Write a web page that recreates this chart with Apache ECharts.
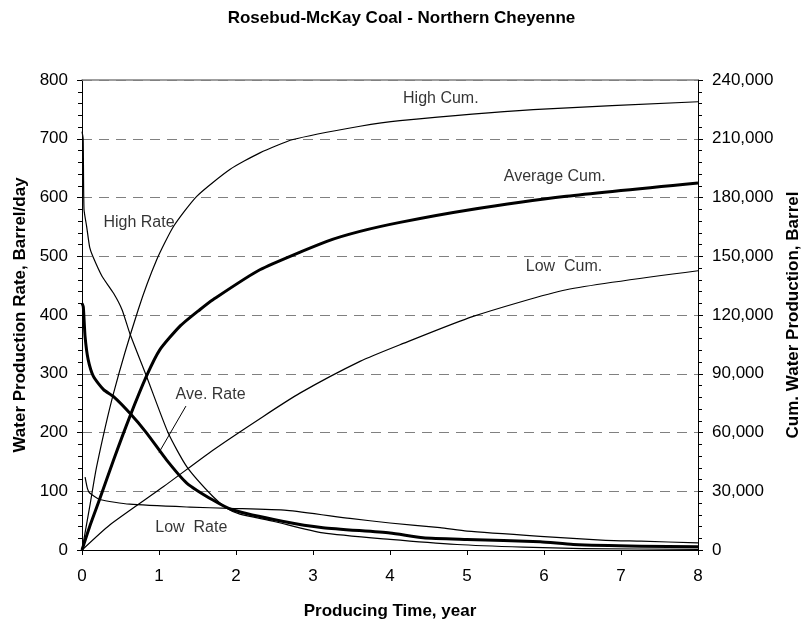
<!DOCTYPE html>
<html>
<head>
<meta charset="utf-8">
<script src="https://cdn.jsdelivr.net/npm/echarts@6/dist/echarts.min.js"></script>
<style>
html,body{margin:0;padding:0;background:#fff;overflow:hidden;}
#chart{width:803px;height:623px;}
</style>
</head>
<body>
<div id="chart"></div>
<script>
// ---- data (time in years) ----
const highRate = [[0,712],[0.015,700],[0.026,580],[0.06,551],[0.1,515],[0.14,500],[0.26,466],[0.41,437],[0.52,409],[0.62,369],[0.84,295],[1.12,199],[1.36,142],[1.7,91],[1.88,71],[2.05,61],[2.48,49],[3.13,29],[4,18],[4.87,9.4],[5.73,4.9],[6.5,2.5],[8,1]];
const aveRate = [[0,420],[0.017,414],[0.04,363],[0.08,324],[0.15,295],[0.28,273],[0.41,261],[0.62,233],[0.84,199],[1.1,153],[1.36,114],[1.7,85],[1.96,68],[2.6,49],[3.13,38],[4,29],[4.43,21],[5,18],[5.95,14],[6.38,9.5],[7.26,6.5],[8,5.5]];
const lowRate = [[0.04,124],[0.07,105],[0.1,97],[0.23,86],[0.62,78],[1.4,73],[1.92,71],[2.66,67.6],[3.48,53.7],[4,46],[4.65,38],[5,32],[5.95,23.3],[6.8,16.5],[7.26,15],[8,12]];
const highCum = [[0,0],[0.1,22100],[0.19,42600],[0.41,80100],[0.73,122700],[0.97,148200],[1.19,165300],[1.49,180600],[1.92,194300],[2.31,202800],[2.74,209600],[3.61,216400],[4.13,219300],[5.86,224900],[8,228900]];
const aveCum = [[0,0],[0.1,12000],[0.23,26000],[0.41,46000],[0.62,68000],[0.84,89000],[1.01,102200],[1.27,114200],[1.53,122700],[1.7,127800],[2.31,143100],[3.18,157600],[3.61,162700],[4.13,167300],[5,173500],[6.29,180600],[8,187400]];
const lowCum = [[0,0],[0.36,12800],[1.06,32400],[1.705,51100],[2.35,68100],[2.83,80100],[3.61,96300],[4.13,104800],[5.08,119300],[6.29,132900],[8,142600]];

// annotation labels (x in years, y in left-axis units)
const annoText = ['High Rate','Ave. Rate','Low  Rate','High Cum.','Average Cum.','Low  Cum.'];
const annoX = [0.74,1.67,1.42,4.66,6.14,6.26];
const annoY = [557,264,38,769,635,483];
const leader = [[1.35,245],[1.0,166]];

const titleText = 'Rosebud-McKay Coal - Northern Cheyenne';
const xName = 'Producing Time, year';
const yLeftName = 'Water Production Rate, Barrel/day';
const yRightName = 'Cum. Water Production, Barrel';

const FONT = '"Liberation Sans", Arial, sans-serif';
const chart = echarts.init(document.getElementById('chart'));

function lineSeries(data, width, yIndex) {
  return {
    type: 'line', data: data, yAxisIndex: yIndex, showSymbol: false,
    smooth: 0.2, animation: false,
    lineStyle: {color: '#000', width: width, join: 'round'}, z: 3
  };
}

const annoData = annoText.map((t, i) => ({name: t, value: [annoX[i], annoY[i]]}));

chart.setOption({
  animation: false,
  backgroundColor: '#fff',
  title: {
    text: titleText, left: 'center', top: 5,
    textStyle: {fontFamily: FONT, fontSize: 17, fontWeight: 'bold', color: '#000'}
  },
  grid: {left: 82, right: 105, top: 80, bottom: 73, containLabel: false, outerBoundsMode: 'none'},
  xAxis: [{
    type: 'value', min: 0, max: 8, interval: 1,
    name: xName, nameLocation: 'middle', nameGap: 53,
    nameTextStyle: {fontFamily: FONT, fontSize: 17, fontWeight: 'bold', color: '#000'},
    axisLine: {show: true, onZero: false, lineStyle: {color: '#000', width: 1}},
    axisTick: {show: true, length: 5, lineStyle: {color: '#000'}},
    axisLabel: {fontFamily: FONT, fontSize: 17, color: '#000', margin: 18},
    splitLine: {show: false}
  }, {
    type: 'value', min: 0, max: 8, position: 'top',
    axisLine: {show: true, onZero: false, lineStyle: {color: '#808080', width: 1.5}},
    axisTick: {show: false}, axisLabel: {show: false}, splitLine: {show: false}
  }],
  yAxis: [{
    type: 'value', min: 0, max: 800, interval: 100, position: 'left',
    name: yLeftName, nameLocation: 'middle', nameGap: 52, nameRotate: 90,
    nameTextStyle: {fontFamily: FONT, fontSize: 17, fontWeight: 'bold', color: '#000'},
    axisLine: {show: true, onZero: false, lineStyle: {color: '#000', width: 1}},
    axisTick: {show: true, length: 5, lineStyle: {color: '#000'}},
    minorTick: {show: true, splitNumber: 5, length: 4, lineStyle: {color: '#000'}},
    axisLabel: {fontFamily: FONT, fontSize: 17, color: '#000', margin: 14},
    splitLine: {show: true, lineStyle: {color: '#808080', width: 1, type: [10, 7]}}
  }, {
    type: 'value', min: 0, max: 240000, interval: 30000, position: 'right',
    name: yRightName, nameLocation: 'middle', nameGap: 77, nameRotate: 90,
    nameTextStyle: {fontFamily: FONT, fontSize: 17, fontWeight: 'bold', color: '#000'},
    axisLine: {show: true, onZero: false, lineStyle: {color: '#000', width: 1}},
    axisTick: {show: true, length: 5, lineStyle: {color: '#000'}},
    minorTick: {show: true, splitNumber: 5, length: 4, lineStyle: {color: '#000'}},
    axisLabel: {fontFamily: FONT, fontSize: 17, color: '#000', margin: 14,
      formatter: v => v.toLocaleString('en-US')},
    splitLine: {show: false}
  }],
  series: [
    lineSeries(highRate, 1.2, 0),
    lineSeries(aveRate, 3, 0),
    lineSeries(lowRate, 1.2, 0),
    lineSeries(highCum, 1.2, 1),
    lineSeries(aveCum, 3, 1),
    lineSeries(lowCum, 1.2, 1),
    {
      type: 'line', data: leader, yAxisIndex: 0, showSymbol: false, animation: false,
      lineStyle: {color: '#000', width: 1}, z: 3
    },
    {
      type: 'scatter', data: annoData, yAxisIndex: 0, symbolSize: 0, animation: false, z: 5,
      label: {show: true, position: 'inside', formatter: p => p.name,
        fontFamily: FONT, fontSize: 16, color: '#000'}
    }
  ]
});
</script>
</body>
</html>
